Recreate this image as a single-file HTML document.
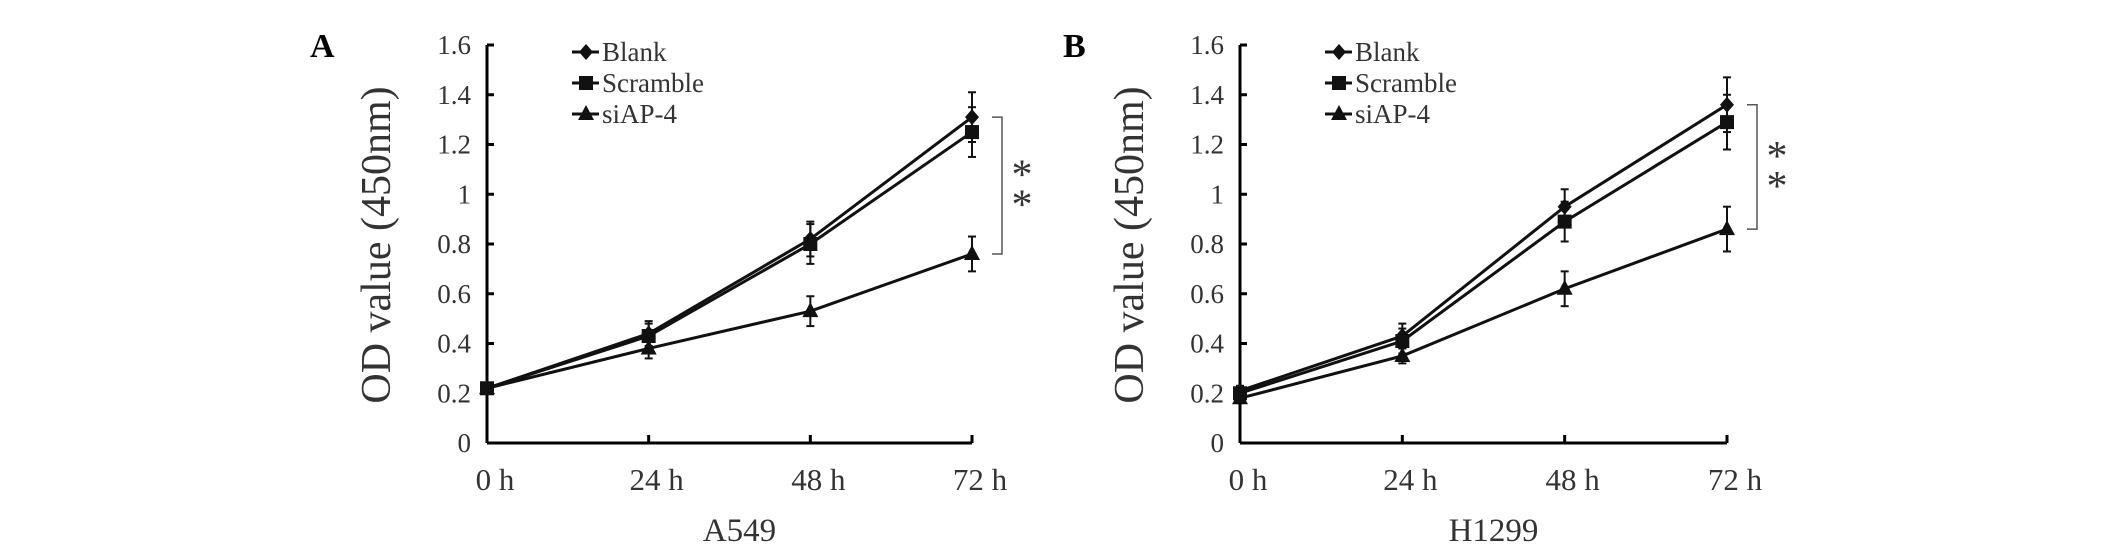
<!DOCTYPE html>
<html><head><meta charset="utf-8"><style>
html,body{margin:0;padding:0;background:#fff}
svg{display:block;font-family:"Liberation Serif",serif}
</style></head><body>
<svg id="chart" width="2126" height="547" viewBox="0 0 2126 547"></svg>
<script>
const categories = ["0 h","24 h","48 h","72 h"];
const yTicks = [0,0.2,0.4,0.6,0.8,1,1.2,1.4,1.6];
const seriesNames = ["Blank","Scramble","siAP-4"];
const aBlank = [0.22,0.44,0.82,1.31];
const aScramble = [0.22,0.43,0.80,1.25];
const aSiap = [0.22,0.38,0.53,0.76];
const aBlankErr = [0.02,0.05,0.07,0.10];
const aScrambleErr = [0.02,0.05,0.08,0.10];
const aSiapErr = [0.02,0.04,0.06,0.07];
const bBlank = [0.21,0.43,0.95,1.36];
const bScramble = [0.20,0.41,0.89,1.29];
const bSiap = [0.18,0.35,0.62,0.86];
const bBlankErr = [0.02,0.05,0.07,0.11];
const bScrambleErr = [0.02,0.05,0.08,0.11];
const bSiapErr = [0.02,0.03,0.07,0.09];

const NS="http://www.w3.org/2000/svg";
const svg=document.getElementById('chart');
function el(tag,attrs,parent,text){const e=document.createElementNS(NS,tag);for(const k in attrs)e.setAttribute(k,attrs[k]);if(text!==undefined)e.textContent=text;(parent||svg).appendChild(e);return e;}

function panel(cfg){
  const g=el('g',{});
  
  
  const x0=cfg.x0, x1=cfg.x1, yb=443, yt=45;
  const xs=i=>x0+(x1-x0)*i/(categories.length-1);
  const ys=v=>yb-(yb-yt)*v/1.6;
  // axes
  const ya=el('line',{x1:x0,y1:yt,x2:x0,y2:yb,stroke:'#000','stroke-width':3},g);
  
  const xa=el('line',{x1:x0,y1:yb,x2:x1,y2:yb,stroke:'#000','stroke-width':3},g);
  
  yTicks.forEach(t=>{
    el('line',{x1:x0,y1:ys(t),x2:x0+7,y2:ys(t),stroke:'#000','stroke-width':3},g);
    const tl=el('text',{x:x0-16,y:ys(t)+9,'text-anchor':'end','font-size':27,fill:'#333'},g,String(t));
    
  });
  categories.forEach((c,i)=>{
    if(i>0) el('line',{x1:xs(i),y1:yb,x2:xs(i),y2:yb-8,stroke:'#000','stroke-width':3},g);
    const tl=el('text',{x:xs(i)+8,y:490,'text-anchor':'middle','font-size':31,fill:'#333'},g,c);
    
  });
  const yt2=el('text',{x:0,y:0,'text-anchor':'middle','font-size':42,fill:'#333',transform:`translate(${x0-97},245) rotate(-90)`},g,'OD value (450nm)');
  
  const xt=el('text',{x:(x0+x1)/2+10,y:541,'text-anchor':'middle','font-size':33,fill:'#333'},g,cfg.cell);
  
  const pl=el('text',{x:x0-177,y:57,'font-size':34,'font-weight':'bold',fill:'#000'},g,cfg.letter);
  
  function marker(k,x,y,p){
    if(k===0) el('polygon',{points:`${x},${y-8} ${x+7},${y} ${x},${y+8} ${x-7},${y}`,fill:'#111'},p);
    else if(k===1) el('rect',{x:x-7,y:y-7,width:14,height:14,fill:'#111'},p);
    else el('polygon',{points:`${x},${y-9} ${x+8},${y+6} ${x-8},${y+6}`,fill:'#111'},p);
  }
  cfg.series.forEach((s,k)=>{
    const sg=el('g',{},g);
    
    
    s.v.forEach((v,i)=>{
      const e=s.e[i];
      el('line',{x1:xs(i),y1:ys(v-e),x2:xs(i),y2:ys(v+e),stroke:'#111','stroke-width':2},sg);
      el('line',{x1:xs(i)-4,y1:ys(v+e),x2:xs(i)+4,y2:ys(v+e),stroke:'#111','stroke-width':2},sg);
      el('line',{x1:xs(i)-4,y1:ys(v-e),x2:xs(i)+4,y2:ys(v-e),stroke:'#111','stroke-width':2},sg);
    });
    el('polyline',{points:s.v.map((v,i)=>xs(i)+','+ys(v)).join(' '),fill:'none',stroke:'#111','stroke-width':3},sg);
    s.v.forEach((v,i)=>marker(k,xs(i),ys(v),sg));
  });
  // legend
  seriesNames.forEach((n,k)=>{
    const lg=el('g',{},g);
    
    const ly=52+k*31, lx=x0+85;
    el('line',{x1:lx,y1:ly,x2:lx+27,y2:ly,stroke:'#111','stroke-width':3},lg);
    marker(k,lx+14,ly,lg);
    el('text',{x:lx+30,y:ly+9,'font-size':27,fill:'#333'},lg,n);
  });
  // significance bracket
  const bx=x1+30, yTop=ys(cfg.series[0].v[3]), yBot=ys(cfg.series[2].v[3]);
  const br=el('path',{d:`M${bx-10},${yTop} H${bx} V${yBot} H${bx-10}`,fill:'none',stroke:'#555','stroke-width':1.5},g);
  
  const mid=(yTop+yBot)/2;
  const st=el('text',{x:bx+20,y:mid+3,'text-anchor':'middle','font-size':42,fill:'#333'},g,'*');
  
  const st2=el('text',{x:bx+20,y:mid+33,'text-anchor':'middle','font-size':42,fill:'#333'},g,'*');
  
}
panel({name:'panel-a549',letter:'A',cell:'A549',x0:487,x1:972,series:[{v:aBlank,e:aBlankErr},{v:aScramble,e:aScrambleErr},{v:aSiap,e:aSiapErr}]});
panel({name:'panel-h1299',letter:'B',cell:'H1299',x0:1240,x1:1727,series:[{v:bBlank,e:bBlankErr},{v:bScramble,e:bScrambleErr},{v:bSiap,e:bSiapErr}]});
</script>
</body></html>
